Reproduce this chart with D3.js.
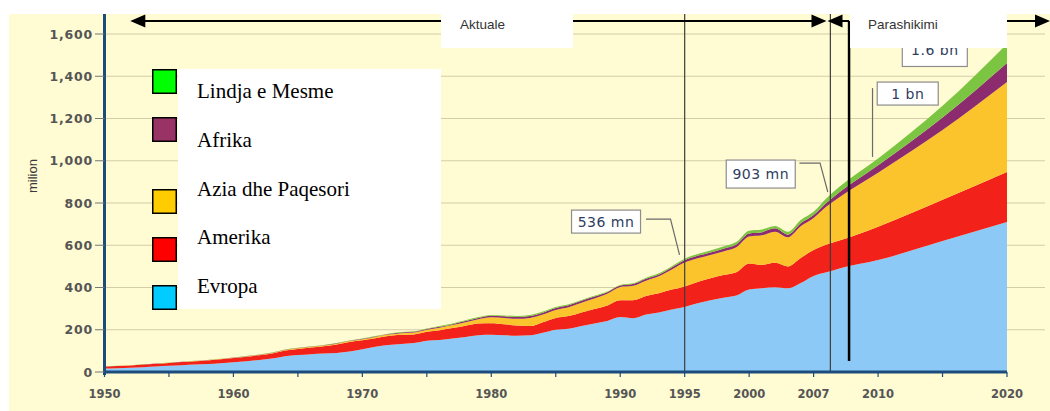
<!DOCTYPE html>
<html lang="sq">
<head>
  <meta charset="UTF-8">
  <title>Arritjet nderkombetare te turisteve</title>
  <script src="https://d3js.org/d3.v7.min.js"></script>
  <style>
    body {
      margin: 0;
      background: #fff;
    }

    svg {
      display: block;
    }

    .tick-label {
      font-family: "DejaVu Sans", sans-serif;
      font-weight: bold;
      fill: #555;
    }

    .callout text {
      font-family: "DejaVu Sans", sans-serif;
      font-size: 14px;
      fill: #2f3d5e;
      letter-spacing: 0.5px;
    }

    .legend text {
      font-family: "Liberation Serif", "Times New Roman", serif;
      font-size: 21px;
      fill: #000;
    }

    .period text {
      font-family: "Liberation Sans", Arial, sans-serif;
      font-size: 13.5px;
      fill: #333;
    }
  </style>
</head>
<body>
  <svg id="chart"></svg>
  <script>
    // years (2010-2020 is the forecast part)
    const years = [
      1950, 1951, 1952, 1953, 1954, 1955, 1956, 1957, 1958, 1959,
      1960, 1961, 1962, 1963, 1964, 1965, 1966, 1967, 1968, 1969,
      1970, 1971, 1972, 1973, 1974, 1975, 1976, 1977, 1978, 1979,
      1980, 1981, 1982, 1983, 1984, 1985, 1986, 1987, 1988, 1989,
      1990, 1991, 1992, 1993, 1994, 1995, 1996, 1997, 1998, 1999,
      2000, 2001, 2002, 2003, 2004, 2005, 2006, 2007,
      2010, 2015, 2020
    ];

    // millions of arrivals per region
    const evropa = [
      16, 18, 20, 23, 26, 29, 32, 35, 38, 42,
      46, 51, 57, 64, 75, 80, 84, 87, 90, 97,
      108, 120, 128, 133, 137, 148, 152, 158, 166, 174,
      176, 174, 172, 174, 186, 200, 205, 218, 230, 242,
      260, 255, 272, 282, 296, 308, 325, 340, 352, 362,
      391, 397, 401, 396, 421, 455, 472, 490,
      530, 620, 710
    ];
    const amerika = [
      9, 10, 11, 12, 13, 14, 15, 16, 17, 18,
      20, 21, 22, 24, 27, 29, 32, 35, 40, 45,
      42, 40, 42, 43, 41, 42, 46, 50, 53, 55,
      55, 52, 48, 44, 50, 56, 60, 64, 68, 73,
      80, 85, 88, 91, 94, 97, 101, 104, 107, 110,
      123, 110, 116, 104, 119, 122, 131, 132,
      158, 195, 237
    ];
    const azia = [
      0.3, 0.3, 0.4, 0.4, 0.5, 0.6, 0.7, 0.8, 1.0, 1.2,
      1.5, 1.8, 2.0, 2.3, 2.6, 3.0, 3.3, 3.6, 4.0, 4.5,
      5, 6, 7, 8, 9, 10, 12, 14, 17, 21,
      28, 30, 32, 38, 36, 38, 42, 46, 50, 55,
      62, 68, 72, 80, 95, 113, 112, 110, 112, 118,
      127, 140, 147, 138, 150, 152, 180, 205,
      255, 330, 426
    ];
    const afrika = [
      0.5, 0.5, 0.5, 0.6, 0.6, 0.6, 0.6, 0.7, 0.7, 0.7,
      0.8, 0.9, 1.0, 1.1, 1.2, 1.3, 1.4, 1.5, 1.6, 1.8,
      2, 2.2, 2.5, 2.8, 3, 3.5, 4, 4.5, 5, 6,
      7, 7.5, 8, 9, 9, 9, 9, 9, 9, 8,
      7, 8, 9, 9, 10, 11, 12, 12, 13, 14,
      15, 15, 16, 12, 14, 14, 18, 24,
      36, 60, 90
    ];
    const lindja = [
      0.2, 0.2, 0.2, 0.2, 0.3, 0.3, 0.3, 0.4, 0.4, 0.5,
      0.6, 0.6, 0.7, 0.8, 0.9, 1.0, 1.0, 1.1, 1.2, 1.4,
      1.5, 1.7, 2, 2.3, 2.5, 3, 3.5, 3.5, 3.5, 4,
      4, 4.5, 5, 5, 5, 5, 5, 4, 4, 3,
      3, 4, 5, 5, 6, 7, 8, 9, 10, 11,
      13, 13, 11, 14, 16, 16, 22, 26,
      32, 55, 90
    ];

    const regionKeys = ["Evropa", "Amerika", "Azia dhe Paqesori", "Afrika", "Lindja e Mesme"];
    const areaColors = ["#8dc9f6", "#f2211a", "#fbc42d", "#8c2b6d", "#7cc542"];

    // legend, top to bottom (swatches are not evenly spaced, labels are)
    const legendNames = ["Lindja e Mesme", "Afrika", "Azia dhe Paqesori", "Amerika", "Evropa"];
    const legendColors = ["#00ff00", "#993366", "#ffcc00", "#ff0000", "#00ccff"];
    const legendSlots = [0, 1, 2.5, 3.5, 4.5];

    const yTicks = [0, 200, 400, 600, 800, 1000, 1200, 1400, 1600];
    const xMinorTicks = [1950, 1955, 1960, 1965, 1970, 1975, 1980, 1985, 1990, 1995, 2000, 2005, 2010, 2015, 2020];
    const xTickYears = [1950, 1960, 1970, 1980, 1990, 1995, 2000, 2005, 2010, 2020];
    const xTickLabels = ["1950", "1960", "1970", "1980", "1990", "1995", "2000", "2007", "2010", "2020"];

    const markerYears = [1995, 2006.3];

    const callouts = [
      { text: "536 mn", year: 1988.9, value: 712, w: 69, h: 23,
        leader: [[1992.0, 724], [1993.9, 724], [1994.6, 554]] },
      { text: "903 mn", year: 2000.9, value: 937, w: 69, h: 28,
        leader: [[2003.9, 989], [2005.5, 989], [2006.1, 852]] },
      { text: "1 bn", year: 2012.3, value: 1318, w: 61, h: 23,
        leader: [[2009.57, 1344], [2009.57, 1018]] },
      { text: "1.6 bn", year: 2014.4, value: 1522, w: 65, h: 32, leader: [] }
    ];

    const width = 1050;
    const height = 411;

    const svg = d3.select("#chart")
      .attr("width", width)
      .attr("height", height);

    const x = d3.scaleLinear().domain([1950, 2020]).range([104.5, 1007]);
    const y = d3.scaleLinear().domain([0, 1600]).range([372, 34]);

    // cream plot background
    svg.append("rect")
      .attr("x", 9).attr("y", 14)
      .attr("width", width - 9).attr("height", height - 14)
      .attr("fill", "#fffbd2");

    // grid
    svg.append("g")
      .selectAll("line")
      .data(yTicks.filter(d => d > 0))
      .join("line")
      .attr("x1", x(1950)).attr("x2", 1045)
      .attr("y1", d => y(d)).attr("y2", d => y(d))
      .attr("stroke", "#d5cdaa")
      .attr("stroke-width", 1);

    // stacked areas
    const rows = years.map((yr, i) => ({
      year: yr,
      "Evropa": evropa[i],
      "Amerika": amerika[i],
      "Azia dhe Paqesori": azia[i],
      "Afrika": afrika[i],
      "Lindja e Mesme": lindja[i]
    }));

    const series = d3.stack().keys(regionKeys)(rows);

    const area = d3.area()
      .x(d => x(d.data.year))
      .y0(d => y(d[0]))
      .y1(d => y(d[1]))
      .curve(d3.curveMonotoneX);

    svg.append("g")
      .selectAll("path")
      .data(series)
      .join("path")
      .attr("d", area)
      .attr("fill", (d, i) => areaColors[i]);

    // thin vertical markers
    svg.append("g")
      .selectAll("line")
      .data(markerYears)
      .join("line")
      .attr("x1", d => x(d)).attr("x2", d => x(d))
      .attr("y1", 14).attr("y2", y(0))
      .attr("stroke", "#3d3d3d")
      .attr("stroke-width", 1.2);

    // axes
    const axisColor = "#1c4c7c";
    svg.append("line")
      .attr("x1", x(1950)).attr("x2", x(1950))
      .attr("y1", 14).attr("y2", y(0) + 3)
      .attr("stroke", axisColor).attr("stroke-width", 3);
    svg.append("line")
      .attr("x1", x(1950) - 1).attr("x2", x(2020))
      .attr("y1", y(0)).attr("y2", y(0))
      .attr("stroke", axisColor).attr("stroke-width", 3);

    svg.append("g")
      .selectAll("line")
      .data(yTicks)
      .join("line")
      .attr("x1", 95).attr("x2", x(1950))
      .attr("y1", d => y(d)).attr("y2", d => y(d))
      .attr("stroke", "#777").attr("stroke-width", 1);

    svg.append("g")
      .selectAll("text")
      .data(yTicks)
      .join("text")
      .attr("class", "tick-label")
      .attr("x", 93)
      .attr("y", d => y(d) + 4.5)
      .attr("text-anchor", "end")
      .style("font-size", "12.5px")
      .style("letter-spacing", "0.8px")
      .text(d => d3.format(",")(d));

    svg.append("g")
      .selectAll("line")
      .data(xMinorTicks)
      .join("line")
      .attr("x1", d => x(d)).attr("x2", d => x(d))
      .attr("y1", y(0)).attr("y2", y(0) + 5)
      .attr("stroke", axisColor).attr("stroke-width", 1.2);

    svg.append("g")
      .selectAll("text")
      .data(xTickYears)
      .join("text")
      .attr("class", "tick-label")
      .attr("x", d => x(d))
      .attr("y", 398)
      .attr("text-anchor", "middle")
      .style("font-size", "11.5px")
      .text((d, i) => xTickLabels[i]);

    svg.append("text")
      .attr("transform", "translate(37,176) rotate(-90)")
      .attr("text-anchor", "middle")
      .style("font-family", "'Liberation Sans Narrow', 'Liberation Sans', Arial, sans-serif")
      .style("font-size", "13px")
      .style("fill", "#3a3a3a")
      .text("milion");

    // callout boxes
    const cg = svg.append("g").attr("class", "callout");
    const line = d3.line().x(d => x(d[0])).y(d => y(d[1]));

    cg.selectAll("path")
      .data(callouts.filter(c => c.leader.length))
      .join("path")
      .attr("d", c => line(c.leader))
      .attr("fill", "none")
      .attr("stroke", "#6b6b6b")
      .attr("stroke-width", 1.2);

    const boxes = cg.selectAll("g")
      .data(callouts)
      .join("g")
      .attr("transform", c => `translate(${x(c.year)},${y(c.value)})`);

    boxes.append("rect")
      .attr("x", c => -c.w / 2).attr("y", c => -c.h / 2)
      .attr("width", c => c.w).attr("height", c => c.h)
      .attr("fill", "#fff")
      .attr("stroke", "#8d8d8d")
      .attr("stroke-width", 1.2);

    boxes.append("text")
      .attr("text-anchor", "middle")
      .attr("y", 5)
      .text(c => c.text);

    // legend
    const lg = svg.append("g").attr("class", "legend");
    lg.append("rect")
      .attr("x", 178).attr("y", 69)
      .attr("width", 263).attr("height", 240)
      .attr("fill", "#fff");

    lg.selectAll("rect.swatch")
      .data(legendNames)
      .join("rect")
      .attr("class", "swatch")
      .attr("x", 152.75)
      .attr("y", (d, i) => 69.75 + legendSlots[i] * 48)
      .attr("width", 23.5).attr("height", 23.5)
      .attr("fill", (d, i) => legendColors[i])
      .attr("stroke", "#000")
      .attr("stroke-width", 1.5);

    lg.selectAll("text")
      .data(legendNames)
      .join("text")
      .attr("x", 197)
      .attr("y", (d, i) => 98 + i * 48.75)
      .text(d => d);

    // period arrows: Aktuale / Parashikimi
    const pg = svg.append("g").attr("class", "period");
    const arrowY = 21;
    const head = (tip, dir) => {
      const b = tip - dir * 15;
      return `M${tip},${arrowY}L${b},${arrowY - 6.5}L${b},${arrowY + 6.5}Z`;
    };

    pg.append("line")
      .attr("x1", x(1952) + 10).attr("x2", x(2006) - 12)
      .attr("y1", arrowY).attr("y2", arrowY)
      .attr("stroke", "#000").attr("stroke-width", 2);
    pg.append("path").attr("d", head(x(1952), -1)).attr("fill", "#000");
    pg.append("path").attr("d", head(x(2006), 1)).attr("fill", "#000");

    pg.append("path").attr("d", head(x(2006) + 1, -1)).attr("fill", "#000");
    pg.append("line")
      .attr("x1", x(2006) + 12).attr("x2", x(2007.75))
      .attr("y1", arrowY).attr("y2", arrowY)
      .attr("stroke", "#000").attr("stroke-width", 2);
    pg.append("line")
      .attr("x1", x(2007.75)).attr("x2", x(2007.75))
      .attr("y1", arrowY).attr("y2", 361)
      .attr("stroke", "#000").attr("stroke-width", 2.5);
    pg.append("line")
      .attr("x1", x(2020)).attr("x2", 1040)
      .attr("y1", arrowY).attr("y2", arrowY)
      .attr("stroke", "#000").attr("stroke-width", 2);
    pg.append("path").attr("d", head(1050, 1)).attr("fill", "#000");

    pg.append("rect")
      .attr("x", 441).attr("y", 14)
      .attr("width", 132).attr("height", 34)
      .attr("fill", "#fff");
    pg.append("text").attr("x", 460).attr("y", 29).text("Aktuale");

    pg.append("rect")
      .attr("x", x(2007.75) + 1).attr("y", 14)
      .attr("width", x(2020) - x(2007.75) - 1).attr("height", 34)
      .attr("fill", "#fff");
    pg.append("text").attr("x", 868).attr("y", 29).text("Parashikimi");
  </script>
</body>
</html>
